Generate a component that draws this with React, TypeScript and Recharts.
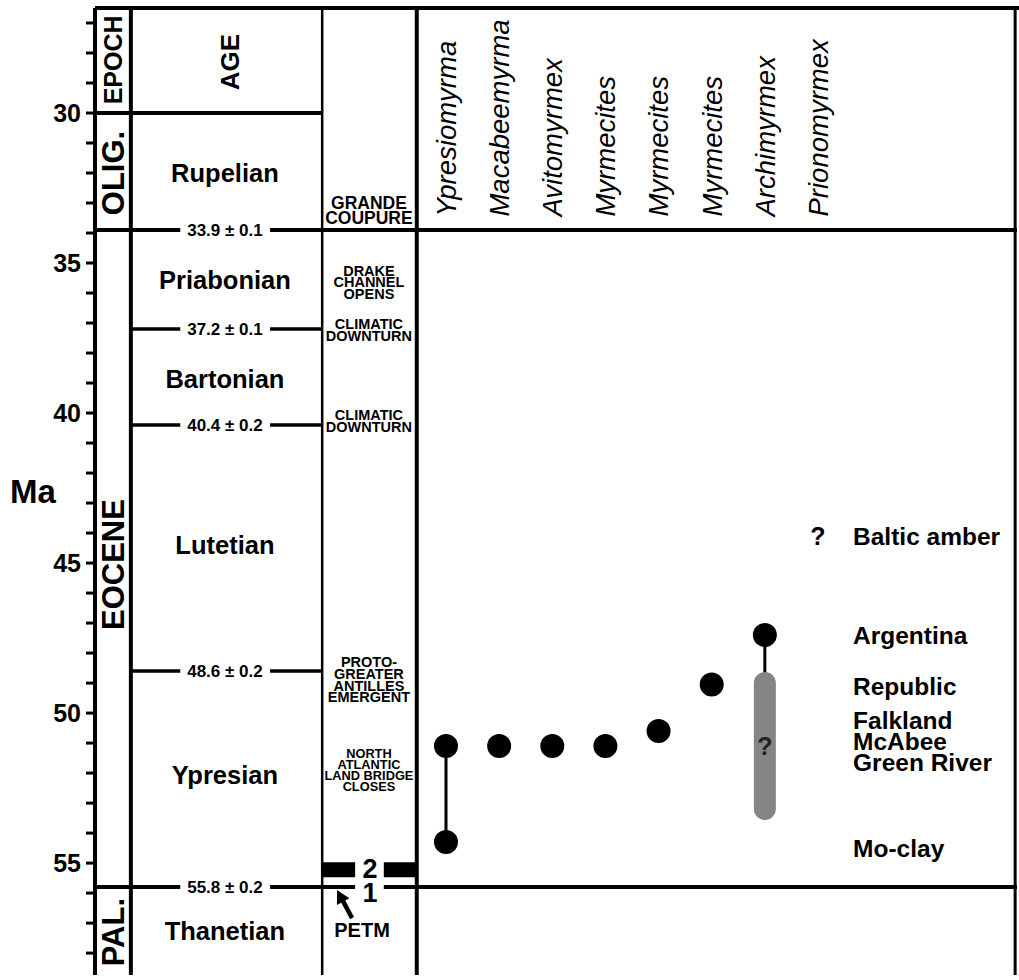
import React from "react";
import { ScatterChart, Scatter, XAxis, YAxis, ReferenceLine, ReferenceArea } from "recharts";

const FONT = '"Liberation Sans", Arial, Helvetica, sans-serif';

// y axis (Ma) ticks
const MA_TICKS = [27, 28, 29, 30, 31, 32, 33, 34, 35, 36, 37, 38, 39, 40, 41, 42, 43, 44, 45, 46, 47, 48, 49, 50, 51, 52, 53, 54, 55, 56, 57, 58];

// taxa columns (x = column index)
const TAXA = ["Ypresiomyrma", "Macabeemyrma", "Avitomyrmex", "Myrmecites", "Myrmecites", "Myrmecites", "Archimyrmex", "Prionomyrmex"];
const FOSSIL_COL = [0, 0, 1, 2, 3, 4, 5, 6];
const FOSSIL_MA = [51.1, 54.3, 51.1, 51.1, 51.1, 50.6, 49.05, 47.4];
const YPRESIO_RANGE = [51.1, 54.3];
const ARCHI_STEM = [47.4, 48.7];
const ARCHI_UNCERTAIN = [49.0, 53.2];
const QUERY_COL = [6, 7];
const QUERY_MA = [51.1, 44.1];

// fossil sites on the right
const SITES = ["Baltic amber", "Argentina", "Republic", "Falkland", "McAbee", "Green River", "Mo-clay"];
const SITE_MA = [44.1, 47.4, 49.1, 50.25, 50.95, 51.65, 54.5];

// time scale
const STAGES = ["Rupelian", "Priabonian", "Bartonian", "Lutetian", "Ypresian", "Thanetian"];
const STAGE_MA = [32.0, 35.55, 38.85, 44.4, 52.05, 57.25];
const BOUNDARY_MA = [33.9, 37.2, 40.4, 48.6, 55.8];
const BOUNDARY_LABELS = ["33.9 ± 0.1", "37.2 ± 0.1", "40.4 ± 0.2", "48.6 ± 0.2", "55.8 ± 0.2"];
const EPOCHS = ["OLIG.", "EOCENE", "PAL."];
const EPOCH_MA = [32.0, 45.05, 57.3];

// events column
const EVENTS = ["DRAKE\nCHANNEL\nOPENS", "CLIMATIC\nDOWNTURN", "CLIMATIC\nDOWNTURN", "PROTO-\nGREATER\nANTILLES\nEMERGENT", "NORTH\nATLANTIC\nLAND BRIDGE\nCLOSES"];
const EVENT_MA = [35.64, 37.23, 40.25, 48.88, 51.9];

// layout of the table, in column units
const X_MIN = -6.605;
const X_MAX = 10.745;
const Y_MIN = 26.5;
const Y_MAX = 58.73;
const COL_EPOCH_MID = -6.27;
const COL_AGE_L = -5.93;
const COL_AGE_MID = -4.16;
const AGE_GAP_L = -5.0;
const AGE_GAP_R = -3.31;
const COL_EVENT_L = -2.33;
const COL_EVENT_MID = -1.45;
const EVENT_GAP_L = -1.71;
const EVENT_GAP_R = -1.17;
const COL_TAXA_L = -0.55;
const COL_RIGHT = 10.71;
const COL_SITE = 7.66;

const fossils = FOSSIL_COL.map((col, i) => ({ col, ma: FOSSIL_MA[i] }));
const taxaHeads = TAXA.map((name, i) => ({ col: i, ma: 33.45, text: name }));
const sites = SITES.map((text, i) => ({ col: COL_SITE, ma: SITE_MA[i], text }));
const queries = QUERY_COL.map((col, i) => ({ col, ma: QUERY_MA[i], text: "?" }));
const stages = STAGES.map((text, i) => ({ col: COL_AGE_MID, ma: STAGE_MA[i], text }));
const bounds = BOUNDARY_LABELS.map((text, i) => ({ col: COL_AGE_MID, ma: BOUNDARY_MA[i], text }));
const epochs = EPOCHS.map((text, i) => ({ col: COL_EPOCH_MID, ma: EPOCH_MA[i], text }));
const events = EVENTS.map((text, i) => ({ col: COL_EVENT_MID, ma: EVENT_MA[i], text }));

const textShape = (size: number, opts: any = {}) => (p: any) => {
  const lines: string[] = String(p.payload.text).split("\n");
  const lh = opts.lineHeight ?? size;
  const top = p.cy - ((lines.length - 1) * lh) / 2;
  const rot = opts.rotate ? `rotate(-90, ${p.cx}, ${p.cy})` : undefined;
  return (
    <text
      x={p.cx}
      y={top}
      transform={rot}
      textAnchor={opts.anchor ?? "middle"}
      fontFamily={FONT}
      fontSize={size}
      fontWeight={opts.weight ?? "bold"}
      fontStyle={opts.italic ? "italic" : "normal"}
      fill={opts.fill ?? "#000"}
    >
      {lines.map((l, i) => (
        <tspan key={i} x={p.cx} y={top + i * lh} dy="0.36em">
          {l}
        </tspan>
      ))}
    </text>
  );
};

const seg = (x1: number, y1: number, x2: number, y2: number, w: number, key: string, extra: any = {}) => (
  <ReferenceLine
    key={key}
    segment={[{ x: x1, y: y1 }, { x: x2, y: y2 }]}
    stroke="#000"
    strokeWidth={w}
    ifOverflow="visible"
    {...extra}
  />
);

const arrowShape = (p: any) => {
  const { cx, cy } = p;
  return (
    <g>
      <line x1={cx + 6} y1={cy + 11} x2={cx + 15} y2={cy + 28} stroke="#000" strokeWidth={4.5} />
      <polygon points={`${cx},${cy} ${cx + 12.3},${cy + 8.2} ${cx - 0.1},${cy + 14.8}`} fill="#000" />
    </g>
  );
};

export default function App() {
  const lines: any[] = [];
  // outer frame and column separators
  lines.push(seg(X_MIN, Y_MIN, X_MAX + 0.04, Y_MIN, 4, "top"));
  lines.push(seg(COL_AGE_L, Y_MIN, COL_AGE_L, Y_MAX, 4, "vAge"));
  lines.push(seg(COL_EVENT_L, Y_MIN, COL_EVENT_L, Y_MAX, 2.5, "vEvt"));
  lines.push(seg(COL_TAXA_L, Y_MIN, COL_TAXA_L, Y_MAX, 4, "vTaxa"));
  lines.push(seg(COL_RIGHT, Y_MIN, COL_RIGHT, Y_MAX, 3, "vRight"));
  lines.push(seg(X_MIN, 30, COL_EVENT_L, 30, 4, "h30"));
  // stage boundaries
  lines.push(seg(X_MIN, 33.9, AGE_GAP_L, 33.9, 4, "b339a"));
  lines.push(seg(AGE_GAP_R, 33.9, X_MAX, 33.9, 4, "b339b"));
  [37.2, 40.4, 48.6].forEach((m) => {
    lines.push(seg(COL_AGE_L, m, AGE_GAP_L, m, 3.5, `b${m}a`));
    lines.push(seg(AGE_GAP_R, m, COL_EVENT_L, m, 3.5, `b${m}b`));
  });
  lines.push(seg(X_MIN, 55.8, AGE_GAP_L, 55.8, 4, "b558a"));
  lines.push(seg(AGE_GAP_R, 55.8, EVENT_GAP_L, 55.8, 4, "b558b"));
  lines.push(seg(EVENT_GAP_R, 55.8, X_MAX, 55.8, 4, "b558c"));
  // taxon ranges
  lines.push(seg(0, YPRESIO_RANGE[0], 0, YPRESIO_RANGE[1], 3, "ypr"));
  lines.push(seg(6, ARCHI_STEM[0], 6, ARCHI_STEM[1], 3, "archStem"));
  lines.push(
    seg(6, ARCHI_UNCERTAIN[0], 6, ARCHI_UNCERTAIN[1], 22, "archBar", { stroke: "#858585", strokeLinecap: "round" })
  );

  return (
    <div style={{ position: "absolute", left: 0, top: 0, background: "#fff" }}>
      <ScatterChart width={1019} height={980} margin={{ top: 8, right: 2, bottom: 5, left: 8 }}>
        <XAxis type="number" dataKey="col" domain={[X_MIN, X_MAX]} allowDataOverflow hide />
        <YAxis
          type="number"
          dataKey="ma"
          domain={[Y_MIN, Y_MAX]}
          allowDataOverflow
          reversed
          width={87}
          ticks={MA_TICKS}
          interval={0}
          tickFormatter={(v: number) => (v % 5 === 0 ? String(v) : "")}
          tickSize={9}
          tickMargin={5}
          axisLine={{ stroke: "#000", strokeWidth: 4 }}
          tickLine={{ stroke: "#000", strokeWidth: 3 }}
          tick={{ fontSize: 25, fontWeight: "bold", fill: "#000", fontFamily: FONT }}
          label={{
            value: "Ma",
            position: "insideLeft",
            offset: 2,
            style: { fontSize: 33, fontWeight: "bold", fill: "#000", fontFamily: FONT, textAnchor: "start" },
          }}
        />
        {lines}
        <ReferenceArea x1={COL_EVENT_L} x2={EVENT_GAP_L} y1={54.97} y2={55.47} fill="#000" fillOpacity={1} stroke="none" ifOverflow="visible" />
        <ReferenceArea x1={EVENT_GAP_R} x2={COL_TAXA_L} y1={54.97} y2={55.47} fill="#000" fillOpacity={1} stroke="none" ifOverflow="visible" />

        <Scatter data={fossils} isAnimationActive={false} shape={(p: any) => <circle cx={p.cx} cy={p.cy} r={12} fill="#000" />} />
        <Scatter data={[queries[0]]} isAnimationActive={false} shape={textShape(25, { fill: "#222" })} />
        <Scatter data={[queries[1]]} isAnimationActive={false} shape={textShape(25)} />
        <Scatter data={taxaHeads} isAnimationActive={false} shape={textShape(27.5, { rotate: true, anchor: "start", italic: true, weight: "normal" })} />
        <Scatter data={sites} isAnimationActive={false} shape={textShape(24.5, { anchor: "start" })} />
        <Scatter data={stages} isAnimationActive={false} shape={textShape(25.5)} />
        <Scatter data={bounds} isAnimationActive={false} shape={textShape(17)} />
        <Scatter data={epochs} isAnimationActive={false} shape={textShape(31, { rotate: true })} />
        <Scatter data={[{ col: COL_EPOCH_MID, ma: 28.23, text: "EPOCH" }]} isAnimationActive={false} shape={textShape(25, { rotate: true })} />
        <Scatter data={[{ col: -4.08, ma: 28.3, text: "AGE" }]} isAnimationActive={false} shape={textShape(26, { rotate: true })} />
        <Scatter data={[{ col: COL_EVENT_MID, ma: 33.25, text: "GRANDE\nCOUPURE" }]} isAnimationActive={false} shape={textShape(17.5, { lineHeight: 15 })} />
        <Scatter data={events.slice(0, 4)} isAnimationActive={false} shape={textShape(14.5, { lineHeight: 11.8 })} />
        <Scatter data={events.slice(4)} isAnimationActive={false} shape={textShape(12.8, { lineHeight: 11 })} />
        <Scatter data={[{ col: -1.43, ma: 55.17, text: "2" }, { col: -1.43, ma: 55.97, text: "1" }]} isAnimationActive={false} shape={textShape(27)} />
        <Scatter data={[{ col: -1.58, ma: 57.23, text: "PETM" }]} isAnimationActive={false} shape={textShape(20)} />
        <Scatter data={[{ col: -2.05, ma: 55.9 }]} isAnimationActive={false} shape={arrowShape} />
      </ScatterChart>
    </div>
  );
}
